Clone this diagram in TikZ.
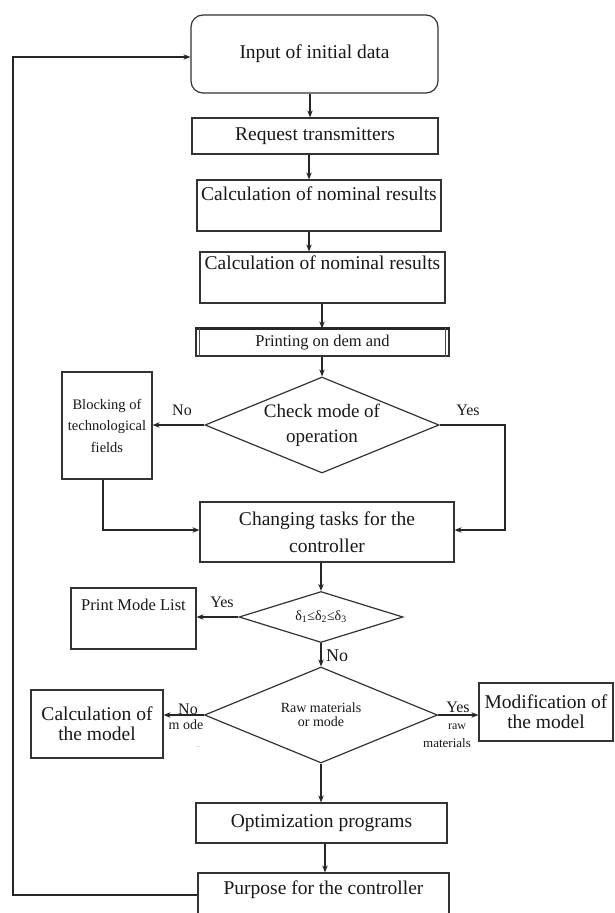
\documentclass[tikz,border=0pt]{standalone}
\usepackage{fontspec}
\setmainfont{Liberation Serif}
\usetikzlibrary{shapes.geometric,arrows.meta}
\begin{document}
\begin{tikzpicture}[x=1pt,y=-1pt,
  box/.style={draw=black!80, line width=1.2pt, rectangle, inner sep=0pt, align=center, text=black!90, font=\fontsize{19.5}{22}\selectfont},
  dia/.style={draw=black!80, line width=1.2pt, diamond, inner sep=0pt, align=center, text=black!90, aspect=2.4},
  arr/.style={draw=black!85, line width=1.1pt, -{Stealth[length=7pt,width=5.5pt]}},
  lin/.style={draw=black!85, line width=1.1pt},
  lbl/.style={inner sep=0pt, text=black!90, font=\fontsize{16}{18}\selectfont},
  txt/.style={inner sep=0pt, align=center, text=black!90, font=\fontsize{19.5}{22}\selectfont}
]
\clip (0,0) rectangle (615,913);
\fill[white] (0,0) rectangle (615,913);

% boxes
\node[box, rounded corners=12pt, minimum width=247pt, minimum height=78pt] (in) at (314.5,54) {Input of initial data};
\node[box, minimum width=246pt, minimum height=36pt] (rq) at (315,136) {Request transmitters};
\node[box, minimum width=244pt, minimum height=51pt] (c1) at (319,205.5) {};
\node[txt] (c1t) at (319,194) {Calculation of nominal results};
\node[box, minimum width=245pt, minimum height=51pt] (c2) at (322.5,277.5) {};
\node[txt] (c2t) at (322.5,263) {Calculation of nominal results};
\node[box, minimum width=253pt, minimum height=27pt, font=\fontsize{16.5}{18}\selectfont] (pr) at (322.5,342.5) {Printing on dem and};
\draw[line width=2.6pt, black!85] (pr.north west) -- (pr.north east);
\draw[line width=0.8pt, black!70] ([xshift=4pt]pr.north west) -- ([xshift=4pt]pr.south west);
\draw[line width=0.8pt, black!70] ([xshift=-4pt]pr.north east) -- ([xshift=-4pt]pr.south east);

\node[dia, minimum width=234pt, minimum height=96pt, font=\fontsize{19}{25}\selectfont] (d1) at (322,425) {Check mode of\\operation};
\node[box, minimum width=90pt, minimum height=107pt, font=\fontsize{14.5}{21.5}\selectfont] (bl) at (107,425.5) {Blocking of\\technological\\fields};
\node[box, minimum width=254pt, minimum height=60pt, font=\fontsize{19.5}{27}\selectfont] (ch) at (327,532) {Changing tasks for the\\controller};

\node[dia, minimum width=164pt, minimum height=51pt, aspect=3.2, font=\fontsize{14}{16}\selectfont] (d2) at (321,617) {δ\textsubscript{1}≤δ\textsubscript{2}≤δ\textsubscript{3}};
\node[box, minimum width=125pt, minimum height=61pt] (pm) at (133.5,618.5) {};
\node[txt, font=\fontsize{16.5}{18}\selectfont] (pmt) at (133.5,605) {Print Mode List};

\node[dia, minimum width=233pt, minimum height=96pt, font=\fontsize{14}{14}\selectfont] (d3) at (321,715) {Raw materials\\or mode};
\node[box, minimum width=132pt, minimum height=68pt, font=\fontsize{19.5}{20}\selectfont] (cm) at (97,724) {Calculation of\\the model};
\node[box, minimum width=134pt, minimum height=58pt, font=\fontsize{19.5}{20}\selectfont] (mo) at (546,712) {Modification of\\the model};

\node[box, minimum width=251pt, minimum height=40pt] (op) at (321.5,823) {Optimization programs};
\node[box, minimum width=251pt, minimum height=62pt] (pp) at (323.5,904) {};
\node[txt] (ppt) at (323.5,890) {Purpose for the controller};

% helper coordinates
\coordinate (a1) at (310,0);
\coordinate (a2) at (309,0);
\coordinate (a4) at (322,0);
\coordinate (a6) at (325,0);
\coordinate (yc) at (505,530);
\coordinate (bc) at (103,530);
\coordinate (fb) at (13,895);
\coordinate (ft) at (13,57);

% connectors
\draw[arr] (in.south -| a1) -- (rq.north -| a1);
\draw[arr] (rq.south -| a2) -- (c1.north -| a2);
\draw[arr] (c1.south -| a2) -- (c2.north -| a2);
\draw[arr] (c2.south -| a4) -- (pr.north -| a4);
\draw[arr] (pr.south -| a4) -- (d1.north);
\draw[arr] (d1.west) -- (d1.west -| bl.east);
\draw[arr] (d1.east) -| (yc) -- (yc -| ch.east);
\draw[arr] (bl.south -| bc) -- (bc) -- (bc -| ch.west);
\draw[arr] (ch.south -| d2.north) -- (d2.north);
\draw[arr] (d2.west) -- (d2.west -| pm.east);
\draw[arr] (d2.south) -- (d3.north);
\draw[arr] (d3.west) -- (d3.west -| cm.east);
\draw[arr] (d3.east) -- (d3.east -| mo.west);
\draw[arr] (d3.south) -- (d3.south |- op.north);
\draw[arr] (op.south -| a6) -- (pp.north -| a6);
\draw[arr] (pp.west |- fb) -- (fb) -- (ft) -- (ft -| in.west);

% labels
\node[lbl] (n1) at (182,410) {No};
\node[lbl] (y1) at (468,410) {Yes};
\node[lbl] (y2) at (222,602) {Yes};
\node[lbl, anchor=west, font=\fontsize{18}{20}\selectfont] (n2) at (326,656) {No};
\node[lbl] (n3) at (188,709) {No};
\node[lbl, font=\fontsize{14}{16}\selectfont] (m3) at (186,725) {m ode};
\node[lbl, font=\fontsize{8}{8}\selectfont, text=black!45] (dd) at (198,747) {..};
\node[lbl] (y3) at (458,707) {Yes};
\node[lbl, font=\fontsize{12}{14}\selectfont] (r3) at (457,727) {raw};
\node[lbl, font=\fontsize{13}{14}\selectfont] (mt) at (447,743) {materials};
\end{tikzpicture}
\end{document}
